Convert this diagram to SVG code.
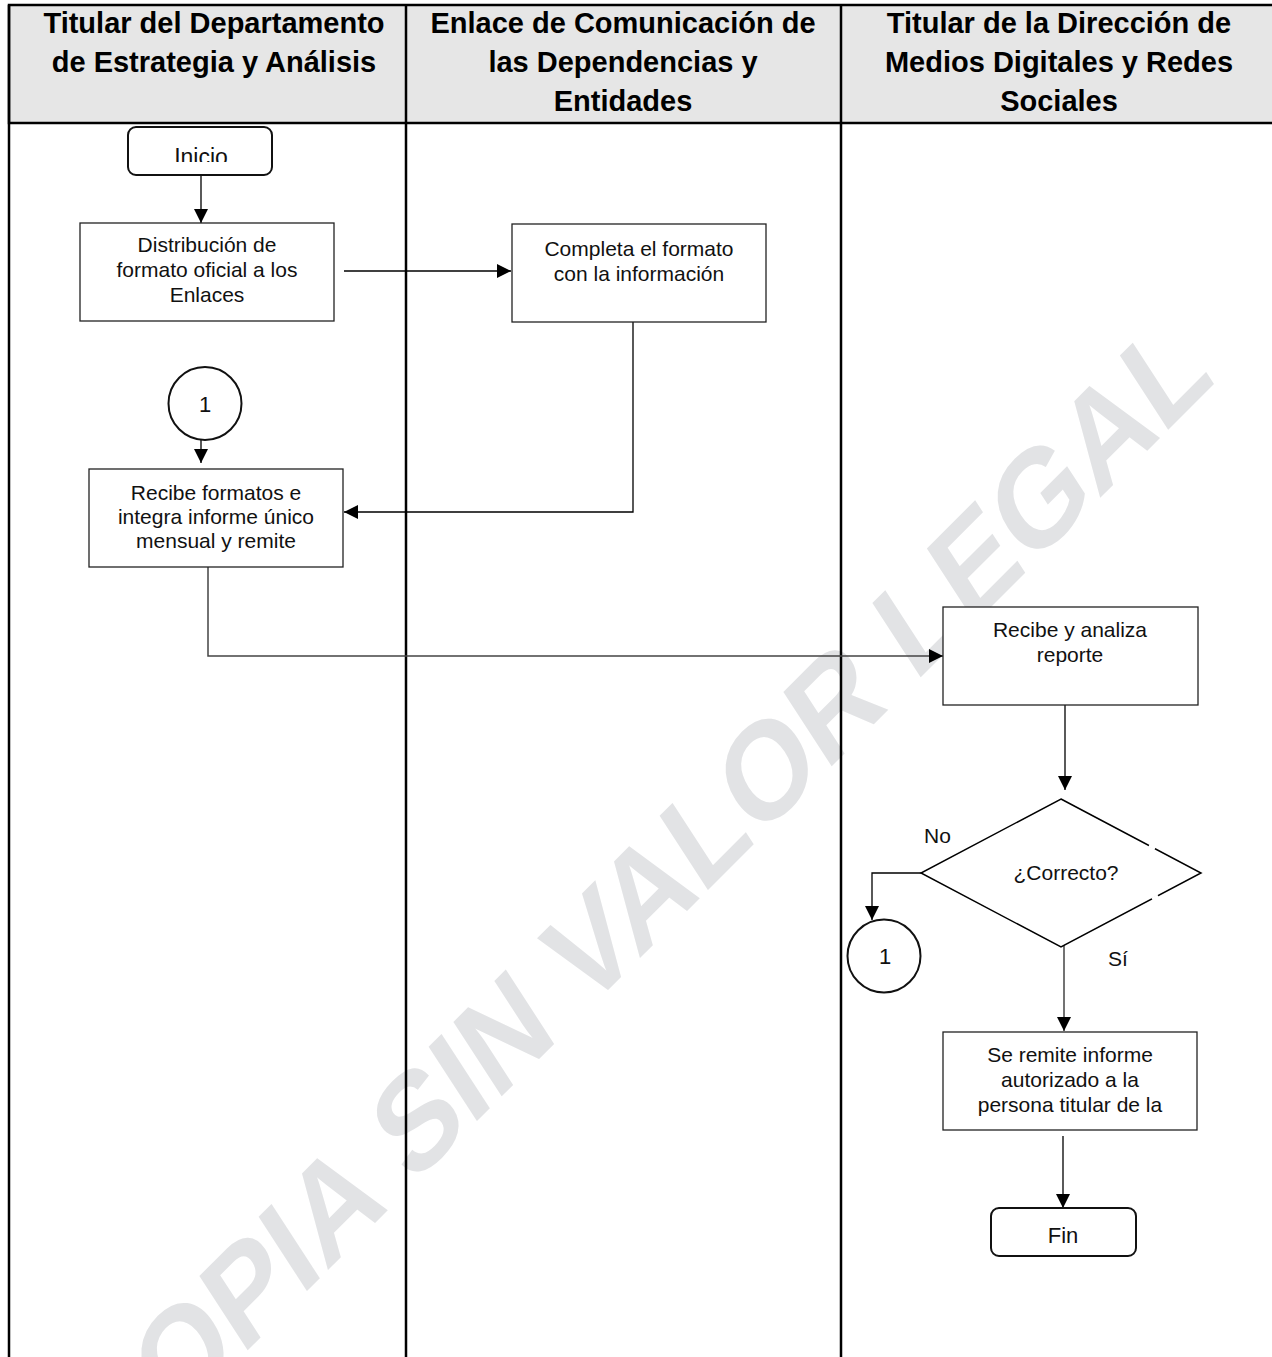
<svg xmlns="http://www.w3.org/2000/svg" width="1272" height="1357" viewBox="0 0 1272 1357">
<style>
  .frame{stroke:#000;stroke-width:2.5;fill:none}
  .hdrbox{stroke:#000;stroke-width:2.5;fill:#e6e6e6}
  .hdr{font-family:"Liberation Sans",Arial,sans-serif;font-size:29px;font-weight:bold;fill:#000;text-anchor:middle}
  .box{fill:#fff;stroke:#222;stroke-width:1.3}
  .term{fill:#fff;stroke:#111;stroke-width:2}
  .circ{fill:#fff;stroke:#111;stroke-width:2}
  .t{font-family:"Liberation Sans",Arial,sans-serif;font-size:21px;fill:#111;text-anchor:middle}
  .lbl{font-family:"Liberation Sans",Arial,sans-serif;font-size:21px;fill:#111}
  .c{fill:none;stroke:#000;stroke-width:1.3}
  .cg{fill:none;stroke:#444;stroke-width:1.5}
  .wm{font-family:"Liberation Sans",Arial,sans-serif;font-size:126px;font-weight:bold;fill:#e2e3e5}
</style>
<defs>
  <marker id="arr" viewBox="0 0 14 14" markerWidth="14" markerHeight="14" refX="14" refY="7" orient="auto" markerUnits="userSpaceOnUse">
    <path d="M0,0 L14,7 L0,14 z" fill="#000"/>
  </marker>
  <clipPath id="clipInicio"><rect x="128" y="127" width="144" height="35"/></clipPath>
</defs>
<rect x="0" y="0" width="1272" height="1357" fill="#fff"/>
<g id="watermark">
  <text class="wm" transform="translate(108,1490) rotate(-45) skewX(-12)">COPIA SIN VALOR LEGAL</text>
</g>
<g id="lanes">
  <rect class="hdrbox" x="9" y="5" width="1270" height="118"/>
  <line class="frame" x1="9" y1="5" x2="9" y2="1357"/>
  <line class="frame" x1="406" y1="5" x2="406" y2="1357"/>
  <line class="frame" x1="841" y1="5" x2="841" y2="1357"/>
  <text class="hdr" x="214" y="32.5">Titular del Departamento</text>
  <text class="hdr" x="214" y="71.5">de Estrategia y Análisis</text>
  <text class="hdr" x="623" y="32.5">Enlace de Comunicación de</text>
  <text class="hdr" x="623" y="71.5">las Dependencias y</text>
  <text class="hdr" x="623" y="110.5">Entidades</text>
  <text class="hdr" x="1059" y="32.5">Titular de la Dirección de</text>
  <text class="hdr" x="1059" y="71.5">Medios Digitales y Redes</text>
  <text class="hdr" x="1059" y="110.5">Sociales</text>
</g>
<g id="connectors">
  <path class="c" d="M201,175 V223" marker-end="url(#arr)"/>
  <path class="c" d="M344,271 H511" marker-end="url(#arr)"/>
  <path class="c" d="M633,322 V512 H344" marker-end="url(#arr)"/>
  <path class="c" d="M201,440 V463" marker-end="url(#arr)"/>
  <path class="cg" d="M200,560 H208 V656 H943" marker-end="url(#arr)"/>
  <path class="c" d="M1065,705 V790" marker-end="url(#arr)"/>
  <path class="c" d="M921,873 H872 V920" marker-end="url(#arr)"/>
  <path class="cg" d="M1064,937 V1031" marker-end="url(#arr)"/>
  <path class="c" d="M1063,1136 V1208" marker-end="url(#arr)"/>
</g>
<g id="inicio">
  <rect class="term" x="128" y="127" width="144" height="48" rx="8"/>
  <text class="t" x="201" y="165" style="font-size:23px" clip-path="url(#clipInicio)">Inicio</text>
</g>
<g id="distribucion">
  <rect class="box" x="80" y="223" width="254" height="98"/>
  <text class="t" x="207" y="252">Distribución de</text>
  <text class="t" x="207" y="277">formato oficial a los</text>
  <text class="t" x="207" y="302">Enlaces</text>
</g>
<g id="completa">
  <rect class="box" x="512" y="224" width="254" height="98"/>
  <text class="t" x="639" y="256">Completa el formato</text>
  <text class="t" x="639" y="281">con la información</text>
</g>
<g id="conector1a">
  <circle class="circ" cx="205" cy="403.5" r="36.5"/>
  <text class="t" x="205" y="412" style="font-size:22px">1</text>
</g>
<g id="recibeFormatos">
  <rect class="box" x="89" y="469" width="254" height="98"/>
  <text class="t" x="216" y="500">Recibe formatos e</text>
  <text class="t" x="216" y="524">integra informe único</text>
  <text class="t" x="216" y="548">mensual y remite</text>
</g>
<g id="recibeAnaliza">
  <rect class="box" x="943" y="607" width="255" height="98"/>
  <text class="t" x="1070" y="637">Recibe y analiza</text>
  <text class="t" x="1070" y="662">reporte</text>
</g>
<g id="decision">
  <polygon points="1061,799 1201,873 1061,947 921,873" fill="#fff" stroke="#000" stroke-width="1.5"/>
  <line x1="1149" y1="845.4" x2="1155" y2="848.6" stroke="#fff" stroke-width="3"/>
  <line x1="1152" y1="899" x2="1158" y2="895.8" stroke="#fff" stroke-width="3"/>
  <text class="t" x="1066" y="880">¿Correcto?</text>
  <text class="lbl" x="924" y="843">No</text>
  <text class="lbl" x="1108" y="966">Sí</text>
</g>
<g id="conector1b">
  <circle class="circ" cx="884" cy="956" r="36.5"/>
  <text class="t" x="885" y="963.5" style="font-size:22px">1</text>
</g>
<g id="seRemite">
  <rect class="box" x="943" y="1032" width="254" height="98"/>
  <text class="t" x="1070" y="1062">Se remite informe</text>
  <text class="t" x="1070" y="1087">autorizado a la</text>
  <text class="t" x="1070" y="1112">persona titular de la</text>
</g>
<g id="fin">
  <rect class="term" x="991" y="1208" width="145" height="48" rx="8"/>
  <text class="t" x="1063" y="1243" style="font-size:22px">Fin</text>
</g>
</svg>
